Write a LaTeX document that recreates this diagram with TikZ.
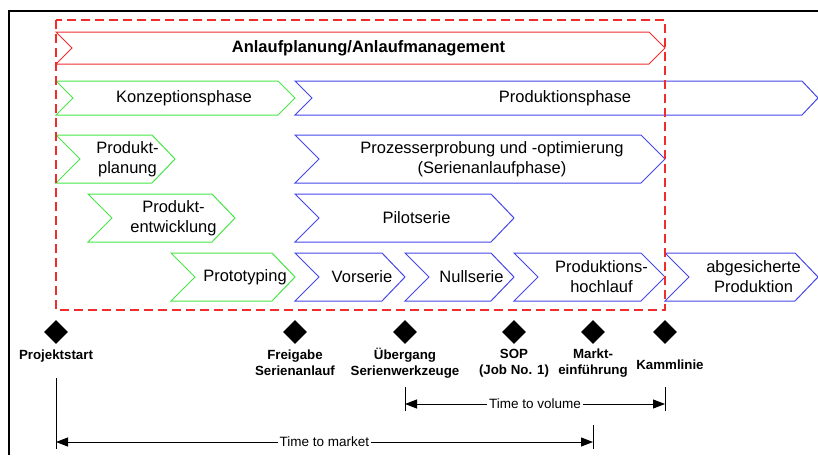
\documentclass[tikz,border=0pt]{standalone}
\usepackage{fontspec}
\setmainfont{Liberation Sans}
\usetikzlibrary{arrows.meta,shapes.geometric}
\definecolor{cred}{RGB}{240,45,45}
\definecolor{cgreen}{RGB}{70,230,70}
\definecolor{cblue}{RGB}{70,70,235}
\tikzset{
  chevtext/.style={align=center,inner sep=0pt,font=\fontsize{16.5}{20}\selectfont},
  mstone/.style={diamond,fill=black,draw=none,inner sep=0pt,minimum width=24pt,minimum height=24pt},
  mlabel/.style={align=center,inner sep=0pt,font=\fontsize{13.3}{16}\selectfont\bfseries},
  tlabel/.style={fill=white,inner sep=2pt,font=\fontsize{13.5}{16}\selectfont},
  tick/.style={line width=0.9pt},
  timearrow/.style={line width=0.9pt,{Triangle[length=12pt,width=9pt]}-{Triangle[length=12pt,width=9pt]}},
}
% #1 name, #2 x-left, #3 x-flat-end, #4 x-tip, #5 y-top, #6 y-bottom, #7 colour, #8 text
\newcommand\chevron[8]{%
  \pgfmathsetmacro\chd{(#6-#5)/2}%
  \pgfmathsetmacro\chm{(#6+#5)/2}%
  \pgfmathsetmacro\chc{(#2+\chd+#4)/2}%
  \draw[#7,line width=1pt,line join=miter] (#2,#5) -- (#3,#5) -- (#4,\chm) -- (#3,#6) -- (#2,#6) -- (#2+\chd,\chm) -- cycle;
  \node[chevtext] (#1) at (\chc,\chm) {#8};%
}
\begin{document}
\begin{tikzpicture}[x=1pt,y=-1pt]
\useasboundingbox (0,0) rectangle (818,455);
% frame
\draw[line width=1.8pt] (9,455) -- (9,11) -- (818,11);
% row 1
\chevron{anlauf}{56}{649}{665}{32}{64}{cred}{\bfseries Anlaufplanung/Anlaufmanagement}
% row 2
\chevron{konz}{56}{278}{295}{81}{115}{cgreen}{Konzeptionsphase}
\chevron{prodph}{295}{802}{818}{81}{115}{cblue}{Produktionsphase}
% row 3
\chevron{pplan}{56}{152}{175}{135}{183}{cgreen}{Produkt-\\planung}
\chevron{prozess}{295}{641}{665}{135}{183}{cblue}{Prozesserprobung und -optimierung\\(Serienanlaufphase)}
% row 4
\chevron{pentw}{88}{212}{235}{194}{242}{cgreen}{Produkt-\\entwicklung}
\chevron{pilot}{295}{491}{514}{194}{242}{cblue}{Pilotserie}
% row 5
\chevron{proto}{171}{272}{295}{253}{301}{cgreen}{Prototyping}
\chevron{vors}{295}{382}{405}{253}{301}{cblue}{Vorserie}
\chevron{nulls}{405}{491}{514}{253}{301}{cblue}{Nullserie}
\chevron{hochl}{514}{641}{665}{253}{301}{cblue}{Produktions-\\hochlauf}
\chevron{abges}{665}{795}{818}{253}{301}{cblue}{abgesicherte\\Produktion}
% red dashed frame
\draw[cred,line width=1.1pt,dash pattern=on 9pt off 5pt] (56,20) rectangle (665,310);
% milestones
\node[mstone] (m1) at (56,332) {};
\node[mstone] (m2) at (295,332) {};
\node[mstone] (m3) at (405,332) {};
\node[mstone] (m4) at (514,332) {};
\node[mstone] (m5) at (593,332) {};
\node[mstone] (m6) at (665,332) {};
\node[mlabel] (l1) at (56,356) {Projektstart};
\node[mlabel] (l2) at (295,363) {Freigabe\\Serienanlauf};
\node[mlabel] (l3) at (405,363) {Übergang\\Serienwerkzeuge};
\node[mlabel] (l4) at (514,363) {SOP\\(Job No. 1)};
\node[mlabel] (l5) at (593,363) {Markt-\\einführung};
\node[mlabel] (l6) at (670,365) {Kammlinie};
% time to volume
\coordinate (tv1) at (405,404);
\coordinate (tv2) at (665,404);
\draw[tick] (405,387) -- (405,411);
\draw[tick] (665,387) -- (665,411);
\draw[timearrow] (tv1) -- (tv2) node[tlabel,midway] (ttv) {Time to volume};
% time to market
\coordinate (tm1) at (56,442);
\coordinate (tm2) at (593,442);
\draw[tick] (56,378) -- (56,449);
\draw[tick] (593,425) -- (593,449);
\draw[timearrow] (tm1) -- (tm2) node[tlabel,midway] (ttm) {Time to market};
\end{tikzpicture}
\end{document}
